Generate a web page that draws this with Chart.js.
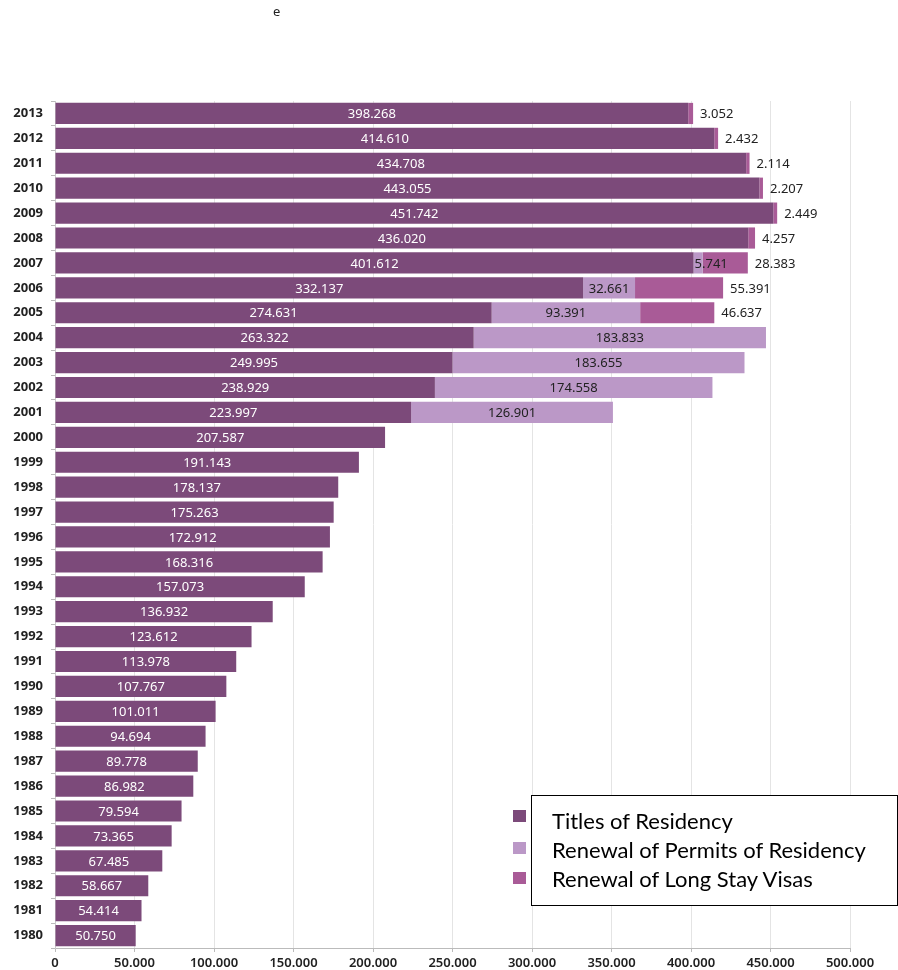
<!DOCTYPE html>
<html>
<head>
<meta charset="utf-8">
<script src="https://cdn.jsdelivr.net/npm/chart.js@4"></script>
<style>
  body { margin: 0; background: #fff; }
  #wrap { position: relative; width: 898px; height: 970px; }
  #topnote { position: absolute; left: 273px; top: 2px; font: 13px "Noto Sans"; color: #222; }
  .legbox { position: absolute; left: 531px; top: 795px; width: 365px; height: 109px;
            border: 1px solid #000; background: #fff; }
  .legtxt { position: absolute; left: 20px; font: 22px Lato; color: #000; white-space: nowrap; }
  .sw { position: absolute; left: 513px; width: 13px; height: 12px; }
</style>
</head>
<body>
<div id="wrap">
  <canvas id="residencyChart" width="898" height="970"></canvas>
  <div id="topnote">e</div>
  <div class="legbox">
    <div class="legtxt" style="top:11px">Titles of Residency</div>
    <div class="legtxt" style="top:40px">Renewal of Permits of Residency</div>
    <div class="legtxt" style="top:69px">Renewal of Long Stay Visas</div>
  </div>
  <div class="sw" style="top:810px;background:#7c4a7a"></div>
  <div class="sw" style="top:842px;background:#bb98c7"></div>
  <div class="sw" style="top:872px;background:#a95b97"></div>
</div>
<script>
// years from top to bottom
const years = [2013, 2012, 2011, 2010, 2009, 2008, 2007, 2006, 2005, 2004, 2003, 2002, 2001, 2000,
    1999, 1998, 1997, 1996, 1995, 1994, 1993, 1992, 1991, 1990, 1989, 1988, 1987, 1986,
    1985, 1984, 1983, 1982, 1981, 1980];

const titles = [398268, 414610, 434708, 443055, 451742, 436020, 401612, 332137, 274631, 263322,
    249995, 238929, 223997, 207587, 191143, 178137, 175263, 172912, 168316, 157073,
    136932, 123612, 113978, 107767, 101011, 94694, 89778, 86982, 79594, 73365,
    67485, 58667, 54414, 50750];

const permits = [null, null, null, null, null, null, 5741, 32661, 93391, 183833,
    183655, 174558, 126901, null, null, null, null, null, null, null,
    null, null, null, null, null, null, null, null, null, null,
    null, null, null, null];

const longStay = [3052, 2432, 2114, 2207, 2449, 4257, 28383, 55391, 46637, null,
    null, null, null, null, null, null, null, null, null, null,
    null, null, null, null, null, null, null, null, null, null,
    null, null, null, null];

const xTicks = [0, 50000, 100000, 150000, 200000, 250000, 300000, 350000, 400000, 450000, 500000];

function fmt(v) {
    return String(v).replace(/\B(?=(\d{3})+(?!\d))/g, ".");
}

// value labels: white inside dark bars, dark inside light bars, outside for the last series
const barLabels = {
    id: "barLabels",
    afterDatasetsDraw(chart) {
        const ctx = chart.ctx;
        ctx.save();
        ctx.font = '13px "Noto Sans"';
        ctx.textBaseline = "middle";
        chart.data.datasets.forEach((ds, i) => {
            const meta = chart.getDatasetMeta(i);
            meta.data.forEach((bar, j) => {
                const v = ds.data[j];
                if (v == null) return;
                const p = bar.getProps(["x", "y", "base"], true);
                const txt = fmt(v);
                const w = ctx.measureText(txt).width;
                if (i === 0) {
                    ctx.fillStyle = "#ffffff";
                    ctx.textAlign = "center";
                    ctx.fillText(txt, (p.x + p.base) / 2, p.y + 1);
                } else if (i === 1) {
                    ctx.fillStyle = "#222222";
                    if (w > p.x - p.base) {
                        ctx.textAlign = "left";
                        ctx.fillText(txt, p.base + 1, p.y + 1);
                    } else {
                        ctx.textAlign = "center";
                        ctx.fillText(txt, (p.x + p.base) / 2, p.y + 1);
                    }
                } else {
                    ctx.fillStyle = "#222222";
                    ctx.textAlign = "left";
                    ctx.fillText(txt, p.x + 7, p.y + 1);
                }
            });
        });
        ctx.restore();
    }
};

const ctx = document.getElementById("residencyChart").getContext("2d");

new Chart(ctx, {
    type: "bar",
    data: {
        labels: years,
        datasets: [
            { label: "Titles of Residency", data: titles, backgroundColor: "#7c4a7a" },
            { label: "Renewal of Permits of Residency", data: permits, backgroundColor: "#bb98c7" },
            { label: "Renewal of Long Stay Visas", data: longStay, backgroundColor: "#a95b97" }
        ]
    },
    options: {
        indexAxis: "y",
        responsive: false,
        animation: false,
        layout: { padding: { top: 101, right: 48, left: 0, bottom: 0 } },
        datasets: { bar: { categoryPercentage: 1, barPercentage: 0.85 } },
        plugins: {
            legend: { display: false },
            tooltip: { enabled: false }
        },
        scales: {
            x: {
                stacked: true,
                min: 0,
                max: 500000,
                afterBuildTicks: (scale) => { scale.ticks = xTicks.map(v => ({ value: v })); },
                afterFit: (scale) => { scale.height = 22; },
                grid: { color: "#e4e4e4", tickLength: 4, tickColor: "#bbbbbb" },
                border: { color: "#bbbbbb" },
                ticks: {
                    color: "#222",
                    font: { family: "Noto Sans", size: 13, weight: "600" },
                    padding: 3,
                    callback: (v) => fmt(v)
                }
            },
            y: {
                stacked: true,
                afterFit: (scale) => { scale.width = 55; },
                grid: { drawOnChartArea: false, tickLength: 4, tickColor: "#bbbbbb" },
                border: { color: "#cccccc" },
                ticks: {
                    color: "#222",
                    font: { family: "Noto Sans", size: 13, weight: "bold" },
                    padding: 8
                }
            }
        }
    },
    plugins: [barLabels]
});
</script>
</body>
</html>
